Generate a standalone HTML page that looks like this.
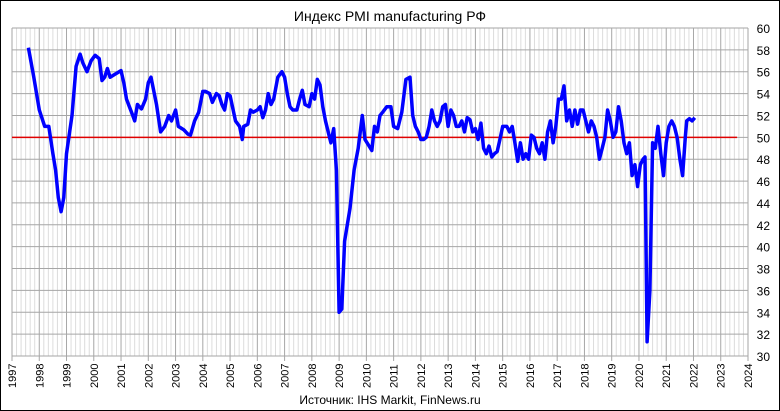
<!DOCTYPE html>
<html><head><meta charset="utf-8"><style>
html,body{margin:0;padding:0;background:#fff;}
svg{display:block;font-family:"Liberation Sans",sans-serif;}
</style></head><body>
<svg id="s" width="780" height="411" viewBox="0 0 780 411" xmlns="http://www.w3.org/2000/svg">
<rect x="0.5" y="0.5" width="779" height="410" fill="#fff" stroke="#000"/>
<text x="390" y="21" font-size="14" text-anchor="middle">Индекс PMI manufacturing РФ</text>
<text x="390" y="404" font-size="12" text-anchor="middle">Источник: IHS Markit,  FinNews.ru</text>
<g id="g"></g>
</svg>
<script>
var X0=12,X1=748,Y0=28,Y1=356;
function X(t){return X0+(t-1997)*(X1-X0)/27;}
function Y(v){return Y1-(v-30)*(Y1-Y0)/30;}
var h='';
// minor vertical
for(var m=0;m<=27*6;m++){var x=X(1997+m/6);if(m%6)h+='<line x1="'+x+'" y1="'+Y0+'" x2="'+x+'" y2="'+Y1+'" stroke="#dcdcdc" stroke-width="1"/>';}
for(var v=30;v<=60;v+=2){h+='<line x1="'+X0+'" y1="'+Y(v)+'" x2="'+X1+'" y2="'+Y(v)+'" stroke="#a6a6a6" stroke-width="1"/>';
h+='<text x="770" y="'+(Y(v)+5)+'" font-size="12" text-anchor="end">'+v+'</text>';}
for(var y=1997;y<=2024;y++){var x=X(y);h+='<line x1="'+x+'" y1="'+Y0+'" x2="'+x+'" y2="'+(Y1+5)+'" stroke="#a6a6a6" stroke-width="1"/>';
h+='<text transform="translate('+(x+4)+',388) rotate(-90)" font-size="11">'+y+'</text>';}
h+='<line x1="'+X0+'" y1="'+Y(50)+'" x2="'+X(2023.6)+'" y2="'+Y(50)+'" stroke="#e00000" stroke-width="1.5"/>';
var d=[1997.6,58.2,1997.8,55.5,1998.0,52.5,1998.2,51,1998.35,51,1998.5,48.5,1998.6,47,1998.7,44.5,1998.8,43.2,1998.9,44.5,1999.0,48.5,1999.2,52,1999.35,56.5,1999.5,57.6,1999.6,56.8,1999.75,56,1999.9,57,2000.05,57.5,2000.2,57.2,2000.3,55.2,2000.4,55.5,2000.5,56.3,2000.6,55.5,2000.8,55.8,2001.0,56.1,2001.1,55,2001.2,53.5,2001.4,52.2,2001.5,51.5,2001.6,53,2001.75,52.6,2001.9,53.5,2002.0,55,2002.1,55.5,2002.3,53,2002.45,50.5,2002.6,51,2002.75,52,2002.85,51.5,2003.0,52.5,2003.1,51,2003.3,50.7,2003.45,50.3,2003.55,50.2,2003.7,51.5,2003.85,52.3,2004.0,54.2,2004.1,54.2,2004.25,54,2004.35,53.2,2004.5,54,2004.6,53.8,2004.7,53,2004.8,52.5,2004.9,54,2005.0,53.8,2005.2,51.5,2005.35,51,2005.45,49.8,2005.5,51,2005.65,51.2,2005.75,52.5,2005.85,52.3,2006.0,52.5,2006.1,52.8,2006.2,51.8,2006.3,52.5,2006.4,54,2006.5,53,2006.6,53.5,2006.75,55.5,2006.9,56,2007.0,55.5,2007.1,54,2007.2,52.8,2007.3,52.5,2007.45,52.5,2007.55,53.5,2007.65,54.3,2007.75,53,2007.9,52.8,2008.0,54,2008.1,53.5,2008.2,55.3,2008.3,54.8,2008.4,52.8,2008.5,51.5,2008.6,50.5,2008.7,49.5,2008.8,50.8,2008.9,47,2009.0,34,2009.1,34.3,2009.2,40.5,2009.4,43.5,2009.55,47,2009.7,49,2009.85,52,2009.95,49.8,2010.1,49.2,2010.2,48.8,2010.3,51,2010.4,50.5,2010.5,52,2010.6,52.3,2010.75,52.8,2010.9,52.8,2011.0,51,2011.15,50.8,2011.3,52.3,2011.45,55.3,2011.6,55.5,2011.7,52,2011.8,51,2011.9,50.5,2012.0,49.8,2012.1,49.8,2012.2,50,2012.3,51,2012.4,52.5,2012.5,51.5,2012.6,51,2012.7,51.5,2012.8,52.8,2012.9,53,2013.0,51,2013.1,52.5,2013.2,52,2013.3,51,2013.4,51,2013.5,51.5,2013.6,50.5,2013.7,51.8,2013.8,51.6,2013.9,50.5,2014.0,50.8,2014.1,49.8,2014.2,51.3,2014.3,49,2014.4,48.5,2014.5,49.2,2014.6,48.2,2014.7,48.5,2014.8,48.7,2014.9,49.8,2015.0,51,2015.15,51,2015.25,50.5,2015.35,51,2015.45,49.5,2015.55,47.8,2015.65,49.5,2015.75,48,2015.85,48.5,2015.95,48,2016.05,50.2,2016.15,50,2016.25,49,2016.35,48.5,2016.45,49.5,2016.55,48,2016.65,50.5,2016.75,51.5,2016.85,49.5,2016.95,51,2017.05,53.5,2017.15,53.5,2017.25,54.7,2017.35,51.5,2017.45,52.5,2017.55,51,2017.65,52.5,2017.75,51.2,2017.85,52.5,2017.95,52.5,2018.05,51.5,2018.15,50.5,2018.25,51.5,2018.35,51,2018.45,50,2018.55,48,2018.65,49,2018.75,50,2018.85,52.5,2018.95,51.5,2019.05,50,2019.15,50.5,2019.25,52.8,2019.35,51.5,2019.45,49.5,2019.55,48.5,2019.65,49.5,2019.75,46.5,2019.85,47.5,2019.95,45.5,2020.05,47.5,2020.15,48,2020.22,48.2,2020.3,31.3,2020.4,36,2020.5,49.5,2020.6,49,2020.7,51,2020.8,48.5,2020.9,46.5,2021.0,49.5,2021.1,51,2021.2,51.5,2021.3,51,2021.4,50,2021.5,48,2021.6,46.5,2021.7,50,2021.75,51.5,2021.85,51.7,2021.95,51.5,2022.05,51.8];
var p=[];for(var i=0;i<d.length;i+=2)p.push(X(d[i]).toFixed(1)+','+Y(d[i+1]).toFixed(1));
h+='<polyline points="'+p.join(' ')+'" fill="none" stroke="#0000ff" stroke-width="3.5" stroke-linejoin="round"/>';
document.getElementById('g').innerHTML=h;
</script>
</body></html>
